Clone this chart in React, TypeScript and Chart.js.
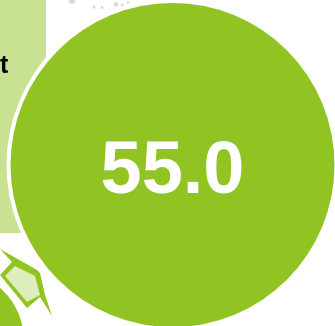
import React, { useEffect, useRef } from "react";
import { Chart, registerables } from "chart.js";

Chart.register(...registerables);

// Single figure shown in the centre of the disc.
const sliceLabels = ["Score"];
const sliceValues = [55.0];

const GREEN = "#91C422";
const PALE_PANEL = "#C8E193";
const PALE_ARROW = "#DDEDBD";

type Pt = [number, number];

const fillPoly = (ctx: CanvasRenderingContext2D, pts: Pt[], color: string) => {
  ctx.beginPath();
  pts.forEach(([x, y], i) => (i ? ctx.lineTo(x, y) : ctx.moveTo(x, y)));
  ctx.closePath();
  ctx.fillStyle = color;
  ctx.fill();
};

// Surrounding artwork that sits behind the disc.
const backdrop = {
  id: "backdrop",
  beforeDatasetsDraw(chart: Chart) {
    const ctx = chart.ctx;
    const arc = chart.getDatasetMeta(0).data[0] as any;
    ctx.save();
    ctx.fillStyle = PALE_PANEL;
    ctx.fillRect(0, 0, 46, 233);

    ctx.fillStyle = "#000";
    ctx.font = "bold 25px 'Liberation Sans'";
    ctx.textBaseline = "alphabetic";
    ctx.textAlign = "left";
    ctx.fillText("t", 0, 73);

    // Faint specks above the disc.
    ctx.fillStyle = "rgba(190,185,190,0.55)";
    for (const [x, y, r] of [
      [72, 1, 3], [94, 7, 1.6], [102, 7.5, 1.6], [116, 4.5, 2.4],
      [122, 5, 1.4], [128, 2.5, 1.3],
    ]) {
      ctx.beginPath();
      ctx.arc(x, y, r, 0, Math.PI * 2);
      ctx.fill();
    }

    ctx.fillStyle = GREEN;
    ctx.beginPath();
    ctx.arc(-47, 341, 71, 0, Math.PI * 2);
    ctx.fill();

    fillPoly(ctx, [[0, 249], [37, 270], [40, 273], [45, 295], [52, 316], [40, 297], [27, 308], [0, 275], [12, 262]], GREEN);
    fillPoly(ctx, [[15, 266], [35, 276], [40, 295], [27, 302], [5, 276]], PALE_ARROW);

    // White halo that separates the disc from the panel.
    ctx.fillStyle = "#fff";
    ctx.beginPath();
    ctx.arc(arc.x, arc.y, arc.outerRadius + 4, 0, Math.PI * 2);
    ctx.fill();
    ctx.restore();
  },
};

// Prints the slice value in the middle of the disc.
const centreValue = {
  id: "centreValue",
  afterDatasetsDraw(chart: Chart) {
    const arc = chart.getDatasetMeta(0).data[0] as any;
    const value = chart.data.datasets[0].data[0] as number;
    const ctx = chart.ctx;
    ctx.save();
    ctx.fillStyle = "#fff";
    ctx.font = "bold 74px 'Liberation Sans'";
    ctx.textAlign = "center";
    ctx.textBaseline = "alphabetic";
    ctx.fillText(value.toFixed(1), arc.x, 193);
    ctx.restore();
  },
};

export default function App() {
  const ref = useRef<HTMLCanvasElement>(null);
  useEffect(() => {
    const chart = new Chart(ref.current!, {
      type: "pie",
      data: {
        labels: sliceLabels,
        datasets: [
          {
            data: sliceValues,
            backgroundColor: GREEN,
            borderWidth: 0,
            radius: 162,
          },
        ],
      },
      options: {
        animation: false,
        responsive: false,
        layout: { padding: { left: 10, top: 4, right: 0, bottom: 0 } },
        plugins: { legend: { display: false }, tooltip: { enabled: false } },
      },
      plugins: [backdrop, centreValue],
    });
    return () => chart.destroy();
  }, []);
  return (
    <canvas
      ref={ref}
      width={335}
      height={326}
      style={{ position: "fixed", left: 0, top: 0, display: "block" }}
    />
  );
}
